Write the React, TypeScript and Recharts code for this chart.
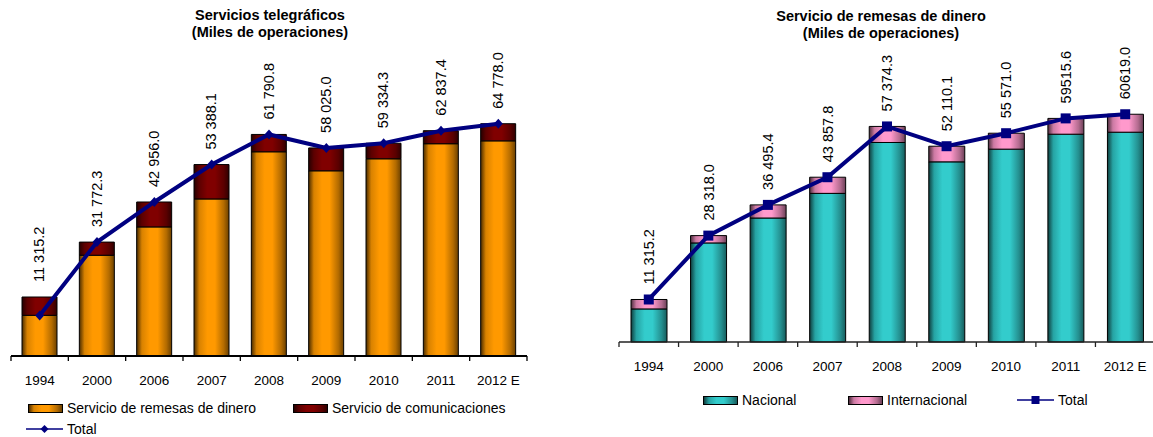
import { Bar, ComposedChart, LabelList, Line, XAxis, YAxis } from "recharts";

const years = ["1994", "2000", "2006", "2007", "2008", "2009", "2010", "2011", "2012 E"];

// Servicios telegráficos
const remesas = [11350, 28100, 36000, 43800, 56950, 51650, 55000, 59200, 60000];
const comunicaciones = [5100, 3670, 6950, 9590, 4840, 6380, 4330, 3640, 4780];
const totalTeleg = [11315.2, 31772.3, 42956.0, 53388.1, 61790.8, 58025.0, 59334.3, 62837.4, 64778.0];
const telegLabels = ["11 315.2", "31 772.3", "42 956.0", "53 388.1", "61 790.8", "58 025.0", "59 334.3", "62 837.4", "64 778.0"];

// Servicio de remesas de dinero
const nacional = [8800, 26370, 33000, 39560, 53100, 47950, 51330, 55310, 55840];
const internacional = [2515, 1950, 3495, 4300, 4275, 4160, 4240, 4205, 4780];
const totalRemesas = [11315.2, 28318.0, 36495.4, 43857.8, 57374.3, 52110.1, 55571.0, 59515.6, 60619.0];
const remesasLabels = ["11 315.2", "28 318.0", "36 495.4", "43 857.8", "57 374.3", "52 110.1", "55 571.0", "59515.6", "60619.0"];

const telegData = years.map((y, i) => ({
  year: y,
  remesas: remesas[i],
  comunicaciones: comunicaciones[i],
  total: totalTeleg[i],
}));

const remesasData = years.map((y, i) => ({
  year: y,
  nacional: nacional[i],
  internacional: internacional[i],
  total: totalRemesas[i],
}));

const FONT = "Arial, 'Liberation Sans', sans-serif";
const NAVY = "#000080";

const gradients: Record<string, string[]> = {
  orange: ["#4a2c00", "#d98200", "#ff9900", "#ff9900", "#b36b00", "#6b4000"],
  red: ["#260000", "#5c0000", "#800000", "#800000", "#5a0000", "#300000"],
  teal: ["#0f3d3d", "#26a3a3", "#33cccc", "#33cccc", "#248f8f", "#175c5c"],
  pink: ["#4d2e3d", "#cc7aa3", "#ff99cc", "#ff99cc", "#b36b8f", "#6b4057"],
};
const stops = [0, 0.15, 0.38, 0.6, 0.85, 1];

function Gradients() {
  return (
    <defs>
      {Object.entries(gradients).map(([id, cols]) => (
        <linearGradient key={id} id={`g-${id}`} x1="0" y1="0" x2="1" y2="0">
          {cols.map((c, i) => (
            <stop key={i} offset={stops[i]} stopColor={c} />
          ))}
        </linearGradient>
      ))}
    </defs>
  );
}

function cssGradient(id: string) {
  const cols = gradients[id];
  return `linear-gradient(to right, ${cols.map((c, i) => `${c} ${stops[i] * 100}%`).join(", ")})`;
}

const makeTick = (half: number, axisColor: string) => (props: any) => {
  const { x, y, payload, index, visibleTicksCount } = props;
  return (
    <g>
      <line x1={x - half} x2={x - half} y1={y} y2={y + 5} stroke={axisColor} strokeWidth={1.3} />
      {index === visibleTicksCount - 1 && (
        <line x1={x + half} x2={x + half} y1={y} y2={y + 5} stroke={axisColor} strokeWidth={1.3} />
      )}
      <text x={x} y={y + 29} textAnchor="middle" fontSize={13.5} fontFamily={FONT} fill="#000">
        {payload.value}
      </text>
    </g>
  );
};

const topLabel = (labels: string[]) => (props: any) => {
  const { x, y, width, index } = props;
  const cx = x + width / 2;
  const yy = y - 15;
  return (
    <text
      x={cx}
      y={yy}
      transform={`rotate(-90 ${cx} ${yy})`}
      textAnchor="start"
      dominantBaseline="central"
      fontSize={14.5}
      fontFamily={FONT}
      fill="#000"
    >
      {labels[index]}
    </text>
  );
};

const diamondDot = (props: any) => {
  const { cx, cy, index } = props;
  return (
    <polygon
      key={`d-${index}`}
      points={`${cx},${cy - 5} ${cx + 4.5},${cy} ${cx},${cy + 5} ${cx - 4.5},${cy}`}
      fill={NAVY}
    />
  );
};

const squareDot = (props: any) => {
  const { cx, cy, index } = props;
  return <rect key={`s-${index}`} x={cx - 5} y={cy - 5} width={10} height={10} fill={NAVY} />;
};

function Title({ left, top, lines }: { left: number; top: number; lines: string[] }) {
  return (
    <div
      style={{
        position: "absolute",
        left: left - 150,
        top,
        width: 300,
        textAlign: "center",
        fontFamily: FONT,
        fontWeight: "bold",
        fontSize: 14.5,
        lineHeight: "17px",
        color: "#000",
      }}
    >
      {lines.map((l) => (
        <div key={l}>{l}</div>
      ))}
    </div>
  );
}

function Swatch({ left, top, id, label }: { left: number; top: number; id: string; label: string }) {
  return (
    <div style={{ position: "absolute", left, top, display: "flex", alignItems: "center", fontFamily: FONT, fontSize: 14 }}>
      <div style={{ width: 33, height: 7, border: "1px solid #000", background: cssGradient(id), marginRight: 4 }} />
      <span>{label}</span>
    </div>
  );
}

function LineKey({ left, top, square }: { left: number; top: number; square?: boolean }) {
  return (
    <div style={{ position: "absolute", left, top, display: "flex", alignItems: "center", fontFamily: FONT, fontSize: 14 }}>
      <svg width={37} height={12} style={{ marginRight: 4 }}>
        <line x1={0} x2={37} y1={6} y2={6} stroke={NAVY} strokeWidth={1.5} />
        {square ? (
          <rect x={14.5} y={2} width={8} height={8} fill={NAVY} />
        ) : (
          <polygon points="18.5,2 22.5,6 18.5,10 14.5,6" fill={NAVY} />
        )}
      </svg>
      <span>Total</span>
    </div>
  );
}

export default function App() {
  return (
    <div
      style={{
        position: "absolute",
        left: 0,
        top: 0,
        width: 1153,
        height: 437,
        overflow: "hidden",
        background: "#fff",
      }}
    >
      <div style={{ position: "absolute", left: 0, top: 0 }}>
        <ComposedChart width={580} height={437} data={telegData} margin={{ top: 105, right: 53, bottom: 51, left: 11 }}>
          <Gradients />
          <XAxis
            dataKey="year"
            height={30}
            tickSize={0}
            tickMargin={0}
            axisLine={{ stroke: "#000", strokeWidth: 2 }}
            tickLine={false}
            tick={makeTick(516 / 18, "#000")}
            interval={0}
          />
          <YAxis hide domain={[0, 70000]} />
          <Bar dataKey="remesas" stackId="a" barSize={35} fill="url(#g-orange)" stroke="#000" strokeWidth={1} isAnimationActive={false} />
          <Bar dataKey="comunicaciones" stackId="a" barSize={35} fill="url(#g-red)" stroke="#000" strokeWidth={1} isAnimationActive={false}>
            <LabelList content={topLabel(telegLabels)} />
          </Bar>
          <Line dataKey="total" stroke={NAVY} strokeWidth={4} dot={diamondDot} activeDot={false} isAnimationActive={false} />
        </ComposedChart>
      </div>

      <div style={{ position: "absolute", left: 580, top: 0 }}>
        <ComposedChart width={580} height={437} data={remesasData} margin={{ top: 79, right: 5, bottom: 65, left: 39 }}>
          <Gradients />
          <XAxis
            dataKey="year"
            height={30}
            tickSize={0}
            tickMargin={0}
            axisLine={{ stroke: "#222", strokeWidth: 1.3 }}
            tickLine={false}
            tick={makeTick(536 / 18, "#222")}
            interval={0}
          />
          <YAxis hide domain={[0, 70000]} />
          <Bar dataKey="nacional" stackId="a" barSize={36} fill="url(#g-teal)" stroke="#000" strokeWidth={1} isAnimationActive={false} />
          <Bar dataKey="internacional" stackId="a" barSize={36} fill="url(#g-pink)" stroke="#000" strokeWidth={1} isAnimationActive={false}>
            <LabelList content={topLabel(remesasLabels)} />
          </Bar>
          <Line dataKey="total" stroke={NAVY} strokeWidth={4} dot={squareDot} activeDot={false} isAnimationActive={false} />
        </ComposedChart>
      </div>

      <Title left={270} top={7} lines={["Servicios telegráficos", "(Miles de operaciones)"]} />
      <Title left={881} top={8} lines={["Servicio de remesas de dinero", "(Miles de operaciones)"]} />

      <Swatch left={28} top={400} id="orange" label="Servicio de remesas de dinero" />
      <Swatch left={293} top={400} id="red" label="Servicio de comunicaciones" />
      <LineKey left={26} top={421} />

      <Swatch left={703} top={392} id="teal" label="Nacional" />
      <Swatch left={848} top={392} id="pink" label="Internacional" />
      <LineKey left={1017} top={392} square />
    </div>
  );
}
